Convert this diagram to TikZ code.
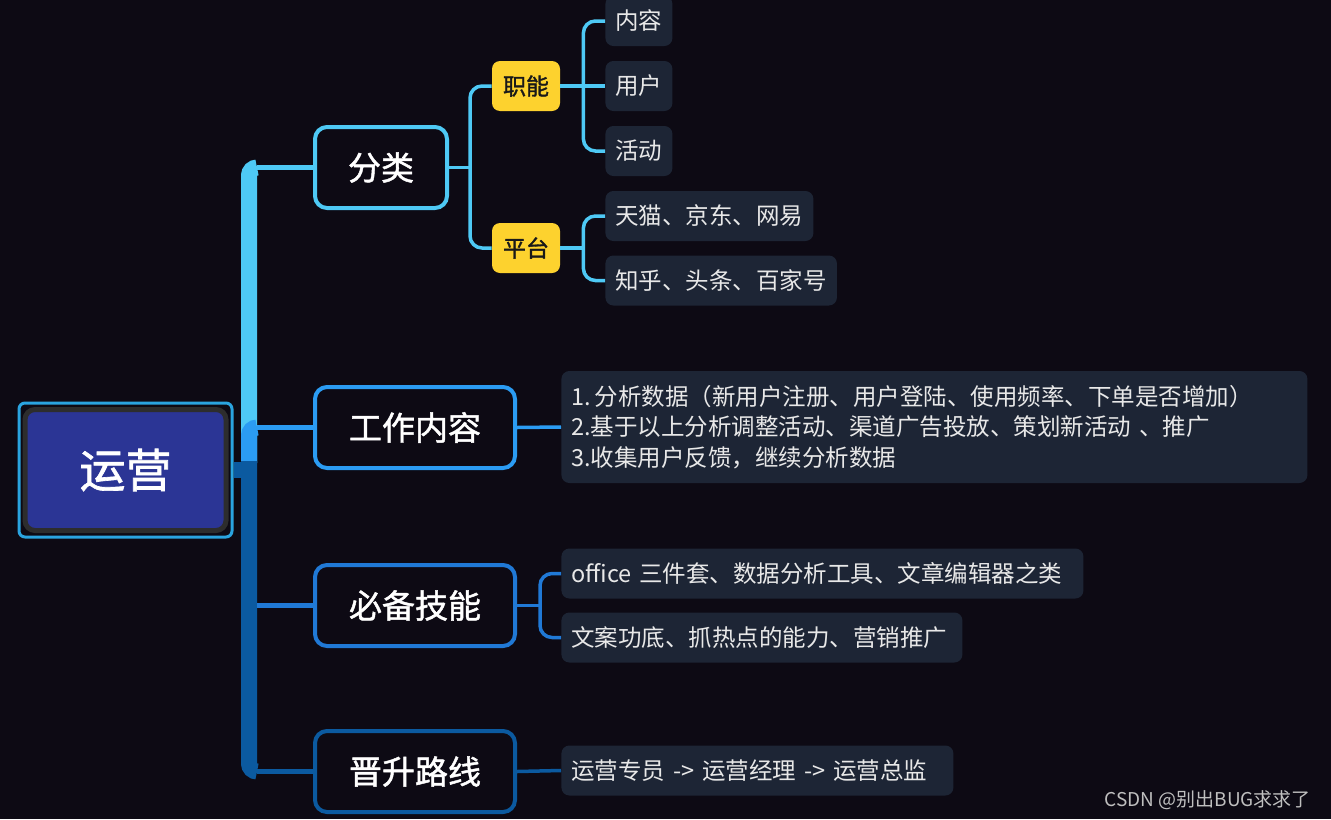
\documentclass[tikz,border=0pt]{standalone}
\usepackage{fontspec}
\setmainfont{Noto Sans CJK SC}
\newfontfamily\midfont{Noto Sans CJK SC}[FakeBold=1.4]
\usetikzlibrary{calc, positioning}
\definecolor{bg}{HTML}{0D0A14}
\definecolor{cA}{HTML}{4EC9F5}
\definecolor{cB}{HTML}{2B9CF3}
\definecolor{cC}{HTML}{2079D6}
\definecolor{cD}{HTML}{0B5AA0}
\definecolor{hubblue}{HTML}{2B3595}
\definecolor{hubgray}{HTML}{2D2D2D}
\definecolor{ringblue}{HTML}{2AA4E0}
\definecolor{tagyellow}{HTML}{FDD22E}
\definecolor{leafbg}{HTML}{1D2535}
\definecolor{leaftext}{HTML}{E8E8E8}
\definecolor{wm}{HTML}{BFBFBF}

\begin{document}
\begin{tikzpicture}[
  x=0.5pt, y=-0.5pt,
  hub/.style={fill=hubblue, draw=hubgray, line width=2.5pt, rounded corners=5pt, minimum width=100.5pt, minimum height=60.5pt, text=white, font=\fontsize{23}{27}\selectfont\midfont},
  hubring/.style={draw=ringblue, line width=1.5pt, rounded corners=3pt, minimum width=106.5pt, minimum height=67pt},
  topic/.style={draw, line width=2pt, rounded corners=6pt, fill=bg, text=white, minimum width=100pt, minimum height=40.5pt, inner sep=0pt, font=\fontsize{16.5}{20}\selectfont\midfont},
  tag/.style={fill=tagyellow, rounded corners=4pt, minimum width=34pt, minimum height=25pt, inner sep=0pt, text=black!90, font=\fontsize{11.5}{14}\selectfont\midfont},
  leaf/.style={anchor=west, fill=leafbg, rounded corners=4pt, text=leaftext, align=left, inner xsep=5pt, minimum height=25pt, font=\fontsize{11.75}{15.25}\selectfont},
  link/.style={line width=1.75pt},
  trunk/.style={line width=8pt, rounded corners=4pt}
]
\useasboundingbox (0,0) rectangle (1331,819);
\fill[bg] (0,0) rectangle (1331,819);

\node[hub] (yunying) at (125.5,470) {运营};
\node[hubring] (ring) at (yunying.center) {};

\node[topic, draw=cA, minimum width=66pt] (fenlei) at (381,167.5) {分类};
\node[topic, draw=cB] (gongzuo) at (415,427.5) {工作内容};
\node[topic, draw=cC] (jineng) at (415,605.5) {必备技能};
\node[topic, draw=cD] (jinsheng) at (415,771.5) {晋升路线};

\node[tag] (zhineng) at (526,86) {职能};
\node[tag] (pingtai) at (526,248) {平台};

\node[leaf] (neirong) at (605,21) {内容};
\node[leaf] (yonghu) at (605,86) {用户};
\node[leaf] (huodong) at (605,151) {活动};
\node[leaf] (tianmao) at (605,216) {天猫、京东、网易};
\node[leaf] (zhihu) at (605,280.5) {知乎、头条、百家号};

\node[leaf, text width=363pt, minimum height=56pt] (fenxi) at (561,427) {1.\,分析数据（新用户注册、用户登陆、使用频率、下单是否增加）\\
2.基于以上分析调整活动、渠道广告投放、策划新活动 、推广\\
3.收集用户反馈，继续分析数据};

\node[leaf, text width=251pt] (office) at (561,573.5) {office 三件套、数据分析工具、文章编辑器之类};
\node[leaf, text width=190.5pt] (wenan) at (561,637.5) {文案功底、抓热点的能力、营销推广};
\node[leaf, text width=186pt] (zhuanyuan) at (561,770.5) {运营专员 -> 运营经理 -> 运营总监};

\node[anchor=east, text=wm, font=\fontsize{9.5}{12}\selectfont] (csdn) at (1318,800) {CSDN @别出BUG求求了};

\coordinate (spine) at (249,463);
\draw[trunk, cA] (spine) |- ($(spine |- fenlei.west)+(8,0)$);
\draw[link, cA, line width=2.5pt] ($(spine |- fenlei.west)+(8,0)$) -- (fenlei.west);
\draw[trunk, cB] (spine) |- ($(spine |- gongzuo.west)+(8,0)$);
\draw[link, cB, line width=2.5pt] ($(spine |- gongzuo.west)+(8,0)$) -- (gongzuo.west);
\draw[trunk, cD] ($(spine)+(0,-2)$) |- ($(spine |- jinsheng.west)+(8,0)$);
\draw[link, cD, line width=2.5pt] ($(spine |- jinsheng.west)+(8,0)$) -- (jinsheng.west);
\draw[link, cC, line width=2.5pt] ($(spine |- jineng.west)+(8,0)$) -- (jineng.west);
\draw[trunk, cD, rounded corners=0pt] (ring.east) -- (ring.east -| spine);

\draw[link, cA] (fenlei.east) -- ++(21,0);
\draw[link, cA, rounded corners=6pt] (zhineng.west) -| ($(fenlei.east)+(21,0)$) |- (pingtai.west);
\draw[link, cA] (zhineng.east) -- (yonghu.west);
\draw[link, cA, rounded corners=6pt] (neirong.west) -| ($(zhineng.east)+(23,0)$) |- (huodong.west);
\draw[link, cA] (pingtai.east) -- ++(23,0);
\draw[link, cA, rounded corners=6pt] (tianmao.west) -| ($(pingtai.east)+(23,0)$) |- (zhihu.west);

\draw[link, cB] (gongzuo.east) -- (fenxi.west);
\draw[link, cC] (jineng.east) -- ++(23,0);
\draw[link, cC, rounded corners=6pt] (office.west) -| ($(jineng.east)+(23,0)$) |- (wenan.west);
\draw[link, cD] (jinsheng.east) -- (zhuanyuan.west);
\end{tikzpicture}
\end{document}
